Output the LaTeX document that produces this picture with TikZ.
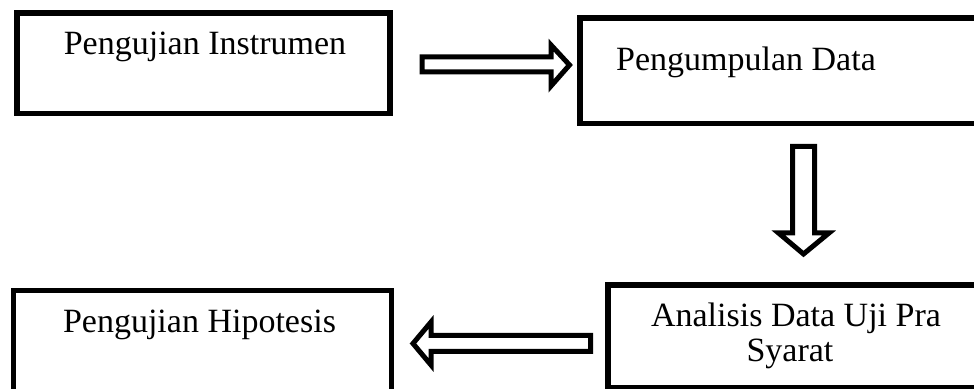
\documentclass[tikz,border=0pt]{standalone}
\usepackage{fontspec}
\setmainfont{Liberation Serif}
\begin{document}
\begin{tikzpicture}[x=0.5pt,y=-0.5pt,
  box/.style={draw=black,line width=2.9pt,rectangle,inner sep=0pt,outer sep=0pt},
  lbl/.style={font=\fontsize{17}{17.5}\selectfont,inner sep=0pt,anchor=base},
  blockarrow/.style={draw=black,fill=white,line width=2.5pt,line join=miter,miter limit=10}]
\useasboundingbox (0,0) rectangle (974,389);
\clip (0,0) rectangle (974,389);
% boxes
\node[box,minimum width=186.5pt,minimum height=50.25pt] (b1) at (203.5,63.25) {};
\node[box,minimum width=210pt,minimum height=52.75pt] (b2) at (790,70.75) {};
\node[box,minimum width=196pt,minimum height=51.5pt] (b3) at (804,336.5) {};
\node[box,line width=2.3pt,minimum width=189pt,minimum height=54.75pt] (b4) at (202.5,345.25) {};
% texts
\node[lbl] (t1) at (205,55) {Pengujian Instrumen};
\node[lbl] (t2) at (746,71) {Pengumpulan Data};
\node[lbl] (t3) at (796,327) {Analisis Data Uji Pra};
\node[lbl] (t3b) at (790,362) {Syarat};
\node[lbl] (t4) at (199.5,333) {Pengujian Hipotesis};
% block arrows
\draw[blockarrow] (422,57) -- (551,57) -- (551,45) -- (569.5,65) -- (551,86) -- (551,72) -- (422,72) -- cycle;
\draw[blockarrow] (792.5,146.5) -- (814.5,146.5) -- (814.5,233) -- (829,233) -- (803.5,254) -- (778.5,233) -- (792.5,233) -- cycle;
\draw[blockarrow] (590.5,335.5) -- (431,335.5) -- (431,322) -- (413,343.5) -- (431,365) -- (431,351.5) -- (590.5,351.5) -- cycle;
\end{tikzpicture}
\end{document}
